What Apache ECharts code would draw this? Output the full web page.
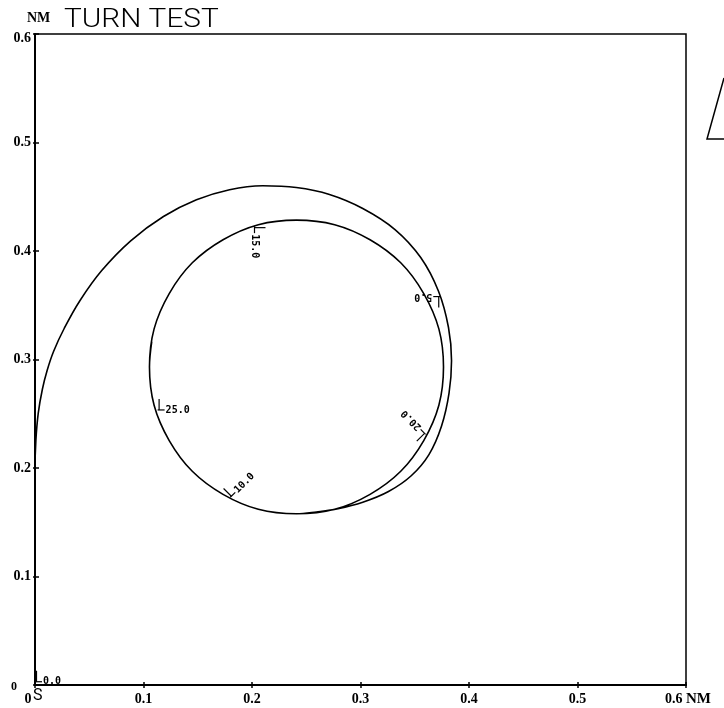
<!DOCTYPE html>
<html>
<head>
<meta charset="utf-8">
<script src="https://cdn.jsdelivr.net/npm/echarts@6/dist/echarts.min.js"></script>
<style>
  html, body { margin: 0; padding: 0; background: #fff; }
  #chart { width: 724px; height: 708px; }
</style>
</head>
<body>
<div id="chart"></div>
<script>
// Turn test: ship track in nautical miles (x = east, y = north)
const axisTicks = [0, 0.1, 0.2, 0.3, 0.4, 0.5, 0.6];

// Track: straight run up the y axis, transient turn, then the steady turning circle
const trackX = [
  0.000, 0.000, 0.000, 0.0008, 0.0030, 0.0068, 0.0113, 0.0171, 0.0270, 0.0415,
  0.0615, 0.0882, 0.1184, 0.1488, 0.1793, 0.2099, 0.2408, 0.2714, 0.3021, 0.3318,
  0.3555, 0.3719, 0.3811, 0.3839, 0.3816, 0.3747, 0.3631, 0.3465, 0.3258, 0.3021,
  0.2793, 0.2594,
  0.241, 0.1733, 0.1237, 0.1055, 0.1237, 0.1733, 0.241, 0.3088, 0.3583, 0.3765,
  0.3583, 0.3088, 0.241, 0.1733, 0.1237, 0.1055, 0.1076
];
const trackY = [
  0.000, 0.100, 0.1982, 0.2251, 0.2505, 0.2726, 0.2903, 0.3074, 0.3288, 0.3544,
  0.3820, 0.4094, 0.4318, 0.4472, 0.4565, 0.4601, 0.4585, 0.4521, 0.4392, 0.4198,
  0.3940, 0.3629, 0.3295, 0.2988, 0.2689, 0.2387, 0.2124, 0.1926, 0.1783, 0.1684,
  0.1624, 0.1595,
  0.1578, 0.1757, 0.2253, 0.293, 0.3608, 0.4104, 0.4285, 0.4104, 0.3608, 0.293,
  0.2253, 0.1757, 0.1578, 0.1757, 0.2253, 0.293, 0.3165
];

// Elapsed-time marks along the track (minutes)
const markTimes = ['0.0', '5.0', '10.0', '15.0', '20.0', '25.0'];
const markX = [0.000, 0.3735, 0.180, 0.2023, 0.360, 0.113];
const markY = [0.003, 0.358, 0.173, 0.4229, 0.231, 0.2535];

const trackData = trackX.map((x, i) => [x, trackY[i]]);
const markData = markTimes.map((t, i) => [markX[i], markY[i], i]);

const chart = echarts.init(document.getElementById('chart'), null, { renderer: 'canvas' });

// Direction of travel at a point on the track, in pixel space (y down):
// project onto the nearest segment and blend the tangents of its two ends
function travelAngle(x, y, api) {
  const pts = trackX.map((tx, i) => api.coord([tx, trackY[i]]));
  const q = api.coord([x, y]);
  const last = pts.length - 1;
  function vtx(i) {
    const a = pts[Math.max(i - 1, 0)], b = pts[Math.min(i + 1, last)];
    const dx = b[0] - a[0], dy = b[1] - a[1], l = Math.hypot(dx, dy) || 1;
    return [dx / l, dy / l];
  }
  let best = 0, bs = 0, bd = Infinity;
  for (let i = 0; i < last; i++) {
    const a = pts[i], b = pts[i + 1];
    const dx = b[0] - a[0], dy = b[1] - a[1], l2 = dx * dx + dy * dy || 1;
    let s = ((q[0] - a[0]) * dx + (q[1] - a[1]) * dy) / l2;
    s = Math.max(0, Math.min(1, s));
    const d = (a[0] + s * dx - q[0]) ** 2 + (a[1] + s * dy - q[1]) ** 2;
    if (d < bd) { bd = d; best = i; bs = s; }
  }
  const t0 = vtx(best), t1 = vtx(best + 1);
  return Math.atan2(t0[1] * (1 - bs) + t1[1] * bs, t0[0] * (1 - bs) + t1[0] * bs);
}

function renderMark(params, api) {
  const x = api.value(0), y = api.value(1), idx = api.value(2);
  const p = api.coord([x, y]);
  // the plotter writes time marks in 45-degree steps, on the starboard side
  const step = Math.PI / 4;
  const heading = Math.round(travelAngle(x, y, api) / step) * step;
  const t = [Math.cos(heading), Math.sin(heading)];
  const n = [-t[1], t[0]];
  const ang = Math.atan2(-n[1], n[0]);
  const line = { stroke: '#000', lineWidth: 1.2 };
  return {
    type: 'group',
    children: [
      { type: 'line', shape: { x1: p[0] + n[0] * 1.5, y1: p[1] + n[1] * 1.5,
          x2: p[0] + n[0] * 1.5 + t[0] * 11, y2: p[1] + n[1] * 1.5 + t[1] * 11 }, style: line },
      { type: 'line', shape: { x1: p[0], y1: p[1], x2: p[0] + n[0] * 7, y2: p[1] + n[1] * 7 }, style: line },
      { type: 'text', x: p[0] + n[0] * 8, y: p[1] + n[1] * 8, rotation: ang,
        style: { text: markTimes[idx], fill: '#000', font: 'bold 10px "DejaVu Sans Mono"',
                 align: 'left', verticalAlign: 'middle', textAlign: 'left', textVerticalAlign: 'middle' } }
    ]
  };
}

const serifBold = { fontFamily: 'Liberation Serif', fontWeight: 'bold', fontSize: 14, color: '#000' };
const axisBase = { type: 'value', min: axisTicks[0], max: axisTicks[axisTicks.length - 1],
                   interval: axisTicks[1] - axisTicks[0], splitLine: { show: false } };

chart.setOption({
  animation: false,
  backgroundColor: '#fff',
  grid: { left: 35, right: 38, top: 34, bottom: 23, show: true, borderColor: '#000', borderWidth: 1.5,
          backgroundColor: 'transparent' },
  xAxis: [
    Object.assign({}, axisBase, {
      position: 'bottom',
      axisLine: { lineStyle: { color: '#000', width: 2 } },
      axisTick: { length: 3, lineStyle: { color: '#000', width: 1.5 } },
      axisLabel: Object.assign({}, serifBold, {
        margin: 7,
        formatter: v => v === 0 ? '{z|0}' : (Math.abs(v - 0.6) < 1e-9 ? '{u|0.6} {n|NM}' : v.toFixed(1)),
        rich: {
          z: { fontFamily: 'Liberation Serif', fontSize: 14, color: '#000', padding: [0, 14, 0, 0] },
          u: { fontFamily: 'Liberation Serif', fontWeight: 'bold', fontSize: 14, color: '#000', padding: [0, 0, 0, 4] },
          n: { fontFamily: 'Liberation Serif', fontWeight: 'bold', fontSize: 15, color: '#000' }
        }
      })
    }),
    Object.assign({}, axisBase, {
      position: 'bottom',
      axisLine: { show: false },
      axisTick: { inside: true, length: 3, lineStyle: { color: '#000', width: 1.5 } },
      axisLabel: { show: false }
    })
  ],
  yAxis: [
    Object.assign({}, axisBase, {
      position: 'left',
      axisLine: { lineStyle: { color: '#000', width: 2 } },
      axisTick: { length: 2, lineStyle: { color: '#000', width: 1.5 } },
      axisLabel: Object.assign({}, serifBold, {
        margin: 4,
        formatter: v => v === 0 ? '{z|0}' : (Math.abs(v - 0.6) < 1e-9 ? '{t|0.6}' : v.toFixed(1)),
        rich: {
          z: { fontFamily: 'Liberation Serif', fontSize: 12, color: '#000', padding: [4, 14, 0, 0] },
          t: { fontFamily: 'Liberation Serif', fontWeight: 'bold', fontSize: 14, color: '#000', padding: [8, 0, 0, 0] }
        }
      })
    }),
    Object.assign({}, axisBase, {
      position: 'left',
      axisLine: { show: false },
      axisTick: { inside: true, length: 4, lineStyle: { color: '#000', width: 1.5 } },
      axisLabel: { show: false }
    })
  ],
  graphic: [
    { type: 'text', left: 27, top: 11, style: { text: 'NM', font: 'bold 14px "Liberation Serif"', fill: '#000' } },
    { type: 'text', x: 64, y: 8, scaleX: 1.19, style: { text: 'TURN TEST', font: '300 25px Roboto', fill: '#000' } },
    { type: 'text', left: 33, top: 688, style: { text: 'S', font: '16px Roboto', fill: '#000' } },
    { type: 'polyline', shape: { points: [[724, 139], [707, 139], [724, 78]] },
      style: { stroke: '#000', lineWidth: 1.5, fill: null } }
  ],
  series: [
    {
      type: 'line',
      xAxisIndex: 0, yAxisIndex: 0,
      data: trackData,
      smooth: 0.38,
      showSymbol: false,
      symbol: 'none',
      lineStyle: { color: '#000', width: 1.6 },
      z: 3
    },
    {
      type: 'custom',
      xAxisIndex: 0, yAxisIndex: 0,
      data: markData,
      encode: { x: 0, y: 1 },
      renderItem: renderMark,
      z: 4
    }
  ]
});
</script>
</body>
</html>
